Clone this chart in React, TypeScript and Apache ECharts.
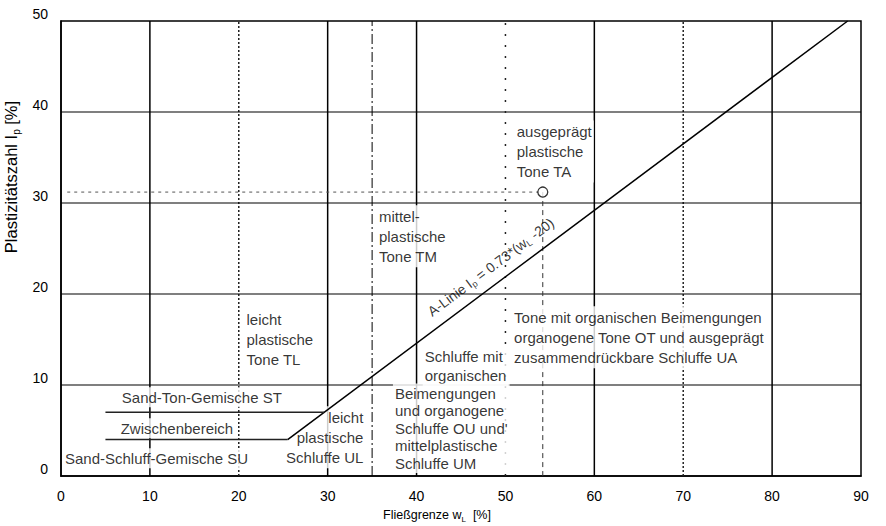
import React, { useEffect, useRef } from "react";
import * as echarts from "echarts";

// ---- data ----
const xTicks = [0, 10, 20, 30, 40, 50, 60, 70, 80, 90];
const yTicks = [0, 10, 20, 30, 40, 50];
const solidGridWL = [10, 30, 40, 60, 80];
const dottedGridWL = [20, 70];
const gridIp = [10, 20, 30, 40];
const aLine: number[][] = [
  [25.5, 4],
  [88.5, 50],
];
const stBoundary: number[][] = [
  [5, 7],
  [29.6, 7],
];
const zwBoundary: number[][] = [
  [5, 4],
  [25.5, 4],
];
const dashDotWL = 35;
const dottedWL = 50;
const samplePoint = [54.2, 31.2];
const sampleGuideStartWL = 0.7;

const regionTexts = [
  "ausgeprägt\nplastische\nTone TA",
  "mittel-\nplastische\nTone TM",
  "leicht\nplastische\nTone TL",
  "Sand-Ton-Gemische ST",
  "Zwischenbereich",
  "Sand-Schluff-Gemische SU",
  "leicht\nplastische\nSchluffe UL",
  "Schluffe mit\norganischen",
  "Beimengungen\nund organogene\nSchluffe OU und'\nmittelplastische\nSchluffe UM",
  "Tone mit organischen Beimengungen\norganogene Tone OT und ausgeprägt\nzusammendrückbare Schluffe UA",
];
const regionAnchors: number[][] = [
  [51.1, 35.6],
  [35.6, 26.3],
  [20.7, 14.9],
  [15.9, 8.6],
  [13.1, 5.2],
  [10.8, 1.9],
  [34.3, 4.2],
  [40.75, 12.0],
  [37.4, 5.2],
  [50.8, 15.2],
];
const aLineLabelAnchor = [48.4, 22.9];

const FONT = "'Liberation Sans', Arial, Helvetica, sans-serif";

export default function App() {
  const ref = useRef<HTMLDivElement>(null);

  useEffect(() => {
    document.body.style.margin = "0";
    if (!ref.current) return;
    const chart = echarts.init(ref.current, undefined, { renderer: "svg" });

    const vLine = (x: number, lineStyle: any, z: number) => ({
      type: "line",
      data: [
        [x, yTicks[0]],
        [x, yTicks[yTicks.length - 1]],
      ],
      symbol: "none",
      silent: true,
      z,
      lineStyle,
    });
    const hLine = (y: number, lineStyle: any, z: number) => ({
      type: "line",
      data: [
        [xTicks[0], y],
        [xTicks[xTicks.length - 1], y],
      ],
      symbol: "none",
      silent: true,
      z,
      lineStyle,
    });

    const regionStyles: any[] = [
      { align: "left", lineHeight: 20 },
      { align: "left", lineHeight: 20 },
      { align: "left", lineHeight: 20 },
      { align: "center", lineHeight: 18 },
      { align: "center", lineHeight: 18 },
      { align: "center", lineHeight: 18 },
      { align: "right", lineHeight: 20 },
      { align: "left", lineHeight: 19 },
      { align: "left", lineHeight: 17.5 },
      { align: "left", lineHeight: 20 },
    ];

    const labelData = regionTexts.map((t, i) => ({
      value: regionAnchors[i],
      label: {
        show: true,
        formatter: t,
        position: [0, 0],
        align: regionStyles[i].align,
        verticalAlign: "middle",
        lineHeight: regionStyles[i].lineHeight,
        fontSize: 15,
        fontFamily: FONT,
        color: "#000",
        backgroundColor: "#fff",
        padding: [1, 2],
      },
    }));

    const series: any[] = [
      ...solidGridWL.map((x) => vLine(x, { color: "#000", width: 1.5 }, 1)),
      ...dottedGridWL.map((x) => vLine(x, { color: "#222", width: 1.5, type: [2, 2] }, 1)),
      ...gridIp.map((y) => hLine(y, { color: "#000", width: 1.2 }, 1)),
      vLine(dashDotWL, { color: "#000", width: 1, type: [10, 3, 2, 3] }, 2),
      vLine(dottedWL, { color: "#222", width: 1.5, type: [2, 9] }, 2),
      {
        type: "line",
        data: [
          [sampleGuideStartWL, samplePoint[1]],
          [samplePoint[0], samplePoint[1]],
        ],
        symbol: "none",
        silent: true,
        z: 2,
        lineStyle: { color: "#555", width: 1, type: [3, 4] },
      },
      {
        type: "line",
        data: [
          [samplePoint[0], samplePoint[1]],
          [samplePoint[0], 0],
        ],
        symbol: "none",
        silent: true,
        z: 2,
        lineStyle: { color: "#333", width: 1, type: [5, 4] },
      },
      {
        type: "scatter",
        data: labelData,
        symbolSize: 1,
        itemStyle: { color: "rgba(0,0,0,0)" },
        silent: true,
        z: 5,
      },
      {
        type: "line",
        data: aLine,
        symbol: "none",
        silent: true,
        z: 6,
        lineStyle: { color: "#000", width: 1.5 },
      },
      {
        type: "line",
        data: stBoundary,
        symbol: "none",
        silent: true,
        z: 6,
        lineStyle: { color: "#222", width: 1.5 },
      },
      {
        type: "line",
        data: zwBoundary,
        symbol: "none",
        silent: true,
        z: 6,
        lineStyle: { color: "#222", width: 1.5 },
      },
      {
        type: "scatter",
        data: [
          {
            value: aLineLabelAnchor,
            label: {
              show: true,
              formatter: "{m|A-Linie I}{s|p}{m| = 0.73*(w}{s|L}{m| -20)}",
              position: [0, 0],
              align: "center",
              verticalAlign: "middle",
              rotate: 36.8,
              rich: {
                m: { fontSize: 14, fontFamily: FONT, color: "#000", lineHeight: 17 },
                s: {
                  fontSize: 9,
                  fontFamily: FONT,
                  color: "#000",
                  lineHeight: 9,
                  verticalAlign: "bottom",
                },
              },
            },
          },
        ],
        symbolSize: 1,
        itemStyle: { color: "rgba(0,0,0,0)" },
        silent: true,
        z: 6,
      },
      {
        type: "scatter",
        data: [samplePoint],
        symbol: "circle",
        symbolSize: 10,
        itemStyle: { color: "#fff", borderColor: "#000", borderWidth: 1.3 },
        silent: true,
        z: 7,
      },
    ];

    chart.setOption({
      animation: false,
      backgroundColor: "#fff",
      grid: {
        left: 61,
        right: 25,
        top: 21,
        bottom: 50,
        show: true,
        borderColor: "#000",
        borderWidth: 1.5,
        backgroundColor: "transparent",
      },
      xAxis: {
        type: "value",
        min: xTicks[0],
        max: xTicks[xTicks.length - 1],
        interval: 10,
        axisLine: { show: true, lineStyle: { color: "#000", width: 1.5 } },
        axisTick: { show: false },
        splitLine: { show: false },
        axisLabel: {
          color: "#000",
          fontSize: 14,
          fontFamily: FONT,
          margin: 13,
        },
      },
      yAxis: {
        type: "value",
        min: yTicks[0],
        max: yTicks[yTicks.length - 1],
        interval: 10,
        axisLine: { show: true, lineStyle: { color: "#000", width: 1.5 } },
        axisTick: { show: false },
        splitLine: { show: false },
        axisLabel: {
          color: "#000",
          fontSize: 14,
          fontFamily: FONT,
          margin: 13,
          verticalAlign: "bottom",
          lineHeight: 14,
        },
      },
      graphic: [
        {
          type: "text",
          x: 437,
          y: 515,
          silent: true,
          style: {
            text: "{m|Fließgrenze w}{s|L}{m|  [%]}",
            textAlign: "center",
            textVerticalAlign: "middle",
            rich: {
              m: { fontSize: 12.5, fontFamily: FONT, fill: "#000", lineHeight: 16 },
              s: { fontSize: 8, fontFamily: FONT, fill: "#000", lineHeight: 8, verticalAlign: "bottom" },
            },
          },
        },
        {
          type: "text",
          x: 11,
          y: 177,
          rotation: Math.PI / 2,
          silent: true,
          style: {
            text: "{m|Plastizitätszahl I}{s|p}{m| [%]}",
            textAlign: "center",
            textVerticalAlign: "middle",
            rich: {
              m: { fontSize: 16.5, fontFamily: FONT, fill: "#000", lineHeight: 20 },
              s: { fontSize: 10, fontFamily: FONT, fill: "#000", lineHeight: 10, verticalAlign: "bottom" },
            },
          },
        },
      ],
      series,
    });

    return () => chart.dispose();
  }, []);

  return <div ref={ref} style={{ width: 886, height: 526 }} />;
}
